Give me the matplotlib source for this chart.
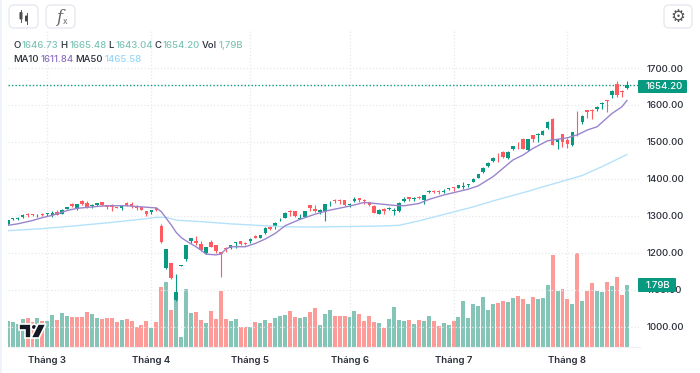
import matplotlib
matplotlib.use("Agg")
import matplotlib.pyplot as plt
from matplotlib.patches import FancyBboxPatch, Polygon, Circle, Rectangle

plt.rcParams['font.family'] = ['Inter', 'DejaVu Sans']

# --- data ---
opens = [1277.5, 1291, 1292, 1296, 1305, 1304, 1304, 1305, 1304, 1303, 1311, 1305, 1318, 1333, 1317, 1339, 1335, 1326,
         1328, 1338, 1329, 1328, 1324, 1322, 1334, 1331, 1325, 1323, 1312, 1311, 1321, 1273, 1158, 1172, 1072, 1164,
         1183, 1232, 1231, 1224, 1198, 1228, 1221, 1202, 1213, 1213, 1225, 1231, 1226, 1231, 1244, 1240, 1252, 1270,
         1272, 1290, 1295, 1312, 1312, 1291, 1296, 1329, 1317, 1310, 1314, 1336, 1343, 1343, 1342, 1330, 1340, 1347,
         1343, 1337, 1327, 1306, 1319, 1319, 1314, 1312, 1341, 1350, 1344, 1352, 1343, 1363, 1367, 1367, 1364, 1372,
         1377, 1375, 1379, 1383, 1391, 1403, 1418, 1434, 1448, 1471, 1473, 1455, 1480, 1498, 1508, 1478, 1518, 1519,
         1519, 1537, 1562, 1500, 1520, 1505, 1491, 1547, 1555, 1585, 1587, 1588, 1602, 1613, 1627, 1656, 1639, 1646.73]
highs = [1289, 1294, 1296, 1305, 1308, 1304, 1305, 1307, 1308, 1314, 1315, 1317, 1324, 1334, 1332, 1342, 1340, 1332,
         1335, 1338, 1329, 1332, 1324, 1328, 1336, 1336, 1328, 1324, 1314, 1315, 1324, 1277, 1210, 1173, 1141, 1167,
         1222, 1241, 1245, 1232, 1216, 1234, 1221, 1203, 1214, 1222, 1229, 1232, 1229, 1241, 1249, 1249, 1269, 1273,
         1283, 1294, 1311, 1315, 1314, 1305, 1314, 1330, 1330, 1317, 1332, 1339, 1346, 1346, 1343, 1335, 1350, 1349,
         1344, 1338, 1328, 1318, 1320, 1324, 1320, 1337, 1351, 1351, 1351, 1354, 1357, 1369, 1369, 1370, 1371, 1376,
         1379, 1383, 1390, 1386, 1401, 1414, 1431, 1445, 1458, 1471, 1474, 1474, 1490, 1500, 1510, 1508, 1519, 1523,
         1532, 1556, 1564, 1507, 1520, 1510, 1526, 1583, 1572, 1586, 1588, 1598, 1607, 1613, 1640, 1665, 1640, 1665.48]
lows = [1276, 1288, 1288, 1293, 1297, 1299, 1297, 1299, 1299, 1297, 1301, 1304, 1317, 1324, 1315, 1329, 1322, 1322,
        1327, 1327, 1317, 1314, 1320, 1315, 1326, 1322, 1315, 1315, 1300, 1305, 1314, 1227, 1157, 1129, 1068, 1163,
        1178, 1225, 1221, 1204, 1196, 1214, 1198, 1135, 1201, 1209, 1213, 1221, 1221, 1227, 1240, 1240, 1250, 1262,
        1263, 1285, 1293, 1299, 1297, 1290, 1296, 1312, 1310, 1306, 1287, 1327, 1335, 1333, 1327, 1323, 1338, 1337,
        1333, 1327, 1307, 1305, 1305, 1315, 1302, 1311, 1338, 1339, 1340, 1345, 1333, 1361, 1361, 1359, 1361, 1370,
        1368, 1374, 1372, 1377, 1390, 1402, 1417, 1433, 1446, 1445, 1457, 1454, 1479, 1482, 1482, 1475, 1500, 1500,
        1518, 1536, 1491, 1480, 1485, 1484, 1490, 1517, 1548, 1565, 1563, 1584, 1588, 1582, 1618, 1621, 1622, 1643.04]
closes = [1288, 1293, 1293, 1303, 1301, 1301, 1305, 1301, 1307, 1308, 1303, 1316, 1324, 1327, 1332, 1333, 1324, 1328,
          1334, 1328, 1324, 1323, 1321, 1328, 1328, 1325, 1321, 1315, 1305, 1315, 1315, 1228, 1210, 1130, 1093, 1166,
          1222, 1240, 1225, 1206, 1215, 1216, 1204, 1195, 1209, 1221, 1228, 1224, 1223, 1238, 1240, 1249, 1268, 1265,
          1281, 1292, 1308, 1310, 1299, 1294, 1313, 1321, 1313, 1315, 1331, 1338, 1340, 1340, 1330, 1333, 1346, 1343,
          1339, 1329, 1308, 1315, 1314, 1322, 1315, 1335, 1346, 1344, 1349, 1347, 1356, 1368, 1365, 1364, 1368, 1374,
          1375, 1382, 1381, 1385, 1400, 1413, 1430, 1444, 1457, 1469, 1458, 1473, 1489, 1496, 1482, 1508, 1508, 1521,
          1529, 1555, 1492, 1507, 1500, 1494, 1526, 1545, 1571, 1580, 1584, 1595, 1606, 1611, 1638, 1627, 1635, 1654.20]
# volume in billions
volumes = [.74, .72, .65, .80, .83, .72, .85, .75, .75, .93, .78, .98, .90, .86, .86, .86, 1.00, .94, .85, .82, .85,
           .83, .72, .79, .82, .74, .57, .64, .76, .56, .71, 1.72, 1.88, 1.06, 1.35, .29, 1.68, .98, 1.01, .77, .70,
           1.05, .82, 1.62, .80, .74, .80, .58, .57, .57, .73, .70, .78, .68, .83, .89, .91, 1.05, .86, .83, .86,
           1.00, 1.13, .64, .96, 1.06, .90, .90, .90, .87, 1.03, .96, .75, .90, .72, .70, .54, .82, 1.16, .78, .76,
           .77, .65, .78, .74, .89, .74, .61, .69, .64, .74, .87, 1.33, .84, 1.24, 1.18, 1.43, 1.08, 1.24, 1.27,
           1.34, 1.30, 1.41, 1.47, 1.40, 1.24, 1.44, 1.40, 1.41, 1.79, 2.66, 1.63, 1.67, 1.39, 1.24, 2.70, 1.34,
           1.62, 1.84, 1.61, 1.60, 1.88, 1.76, 2.02, 1.51, 1.79]
vol_down = [4, 5, 7, 10, 13, 14, 15, 16, 19, 20, 21, 22, 24, 25, 26, 27, 28, 30, 31, 33, 38, 39, 41, 42, 43, 44, 47, 48,
            50, 53, 57, 58, 61, 62, 66, 67, 68, 71, 72, 73, 74, 76, 81, 83, 86, 87, 90, 99, 100, 103, 104, 106, 110,
            112, 113, 115, 117, 118, 121, 123, 124]

ma10_idx = [0, 2, 5, 7, 9, 12, 14, 18, 20, 24, 27, 30, 31, 32, 33, 34, 35, 36, 38, 39, 40, 42, 43, 44, 45, 48, 50, 52,
            54, 56, 59, 62, 65, 69, 72, 75, 78, 80, 83, 85, 88, 93, 95, 98, 102, 104, 106, 109, 113, 115, 117, 119,
            122, 124, 125]
ma10_val = [1274, 1278, 1287, 1295, 1301, 1314, 1320, 1325, 1327, 1327, 1324, 1321, 1311, 1293, 1275, 1255, 1241, 1232,
            1216, 1207, 1196, 1194, 1196, 1209, 1216, 1216, 1225, 1237, 1252, 1273, 1290, 1304, 1315, 1326, 1336, 1332,
            1328, 1327, 1333, 1344, 1356, 1372, 1381, 1406, 1451, 1464, 1482, 1503, 1511, 1519, 1532, 1541, 1577,
            1595, 1611.84]
ma50_idx = [0, 7, 14, 21, 28, 30, 32, 34, 39, 45, 49, 56, 62, 70, 75, 79, 83, 94, 99, 105, 107, 116, 120, 125]
ma50_val = [1259.5, 1265, 1273, 1282, 1292, 1295.6, 1295.6, 1288, 1284, 1278, 1275, 1270, 1269.4, 1271, 1272, 1274,
            1286, 1324, 1344, 1366, 1374, 1409, 1433, 1465.58]

month_idx = [8, 29, 49, 69, 90, 113]
month_labels = ["Tháng 3", "Tháng 4", "Tháng 5", "Tháng 6", "Tháng 7", "Tháng 8"]
price_ticks = [1000, 1100, 1200, 1300, 1400, 1500, 1600, 1700]
last_price = 1654.20
last_vol = 1.79

UP = '#089981'
DOWN = '#ff5a5f'
UP_VOL = '#85c5b8'
DOWN_VOL = '#fd9b99'
GRID = '#e6e8ec'
FS = 6.9

W, H = 700, 373
fig = plt.figure(figsize=(7.0, 3.73), dpi=100, facecolor='white')

# plot area in pixels: x 8.3..640, y 30..347
rect = [8.3 / W, (H - 347) / H, (640 - 8.3) / W, (347 - 30) / H]
ax_vol = fig.add_axes(rect, zorder=1)
ax = fig.add_axes(rect, zorder=2)
ax.patch.set_alpha(0)

xs = list(range(len(closes)))
xlim = ((8.3 - 7.75) / 4.953, (640 - 7.75) / 4.953)

# --- volume ---
vol_colors = [DOWN_VOL if i in vol_down else UP_VOL for i in xs]
ax_vol.bar(xs, volumes, width=0.8, color=vol_colors, linewidth=0)
ax_vol.set_xlim(xlim)
ax_vol.set_ylim(0, 317 / 34.64)
ax_vol.set_yticks([])
ax_vol.set_xticks(month_idx)
ax_vol.set_xticklabels(month_labels, fontsize=FS, fontweight='semibold', color='#2a2e39')
ax_vol.tick_params(axis='x', length=0, pad=6.5)
ax_vol.grid(True, axis='x', color=GRID, linestyle=':', linewidth=0.9)
ax_vol.set_axisbelow(True)
for s in ['top', 'left', 'right']:
    ax_vol.spines[s].set_visible(False)
ax_vol.spines['bottom'].set_color('#eef0f3')

# --- candles ---
colors = [UP if c >= o else DOWN for o, c in zip(opens, closes)]
bottoms = [min(o, c) for o, c in zip(opens, closes)]
heights = [max(abs(c - o), 1.6) for o, c in zip(opens, closes)]
ax.vlines(xs, lows, highs, colors=colors, linewidth=0.8, zorder=3)
ax.bar(xs, heights, bottom=bottoms, width=0.72, color=colors, linewidth=0, zorder=4)

ax.plot(ma50_idx, ma50_val, color='#b5e2fb', linewidth=1.0, zorder=5)
ax.plot(ma10_idx, ma10_val, color='#9a85cc', linewidth=1.0, zorder=6)
ax.axhline(last_price, color=UP, linestyle=(0, (1, 1.5)), linewidth=1.0, zorder=2)

ax.set_xlim(xlim)
ax.set_ylim(944.5, 1802.9)
ax.set_xticks([])
ax.yaxis.tick_right()
ax.set_yticks(price_ticks)
ax.set_yticklabels([f"{v:.2f}" for v in price_ticks], fontsize=FS, fontweight='medium', color='#2a2e39')
ax.tick_params(axis='y', length=0, pad=5)
ax.grid(True, axis='y', color=GRID, linestyle=':', linewidth=0.9, zorder=0)
for s in ax.spines.values():
    s.set_visible(False)

# --- chrome drawn in pixel coordinates ---
ui = fig.add_axes([0, 0, 1, 1], zorder=3)
ui.set_xlim(0, W)
ui.set_ylim(H, 0)
ui.axis('off')
ui.patch.set_alpha(0)

ui.add_patch(Rectangle((0, 0), 2, H, color='#eef3fa', linewidth=0))


def button(x0, x1):
    ui.add_patch(FancyBboxPatch((x0, 5), x1 - x0, 23, boxstyle="round,pad=0,rounding_size=5",
                                fc='white', ec='#e4e7ee', lw=0.9))


button(9, 38)
button(46, 75)
button(664, 692)

# candle icon
ui.plot([21, 21], [10, 22], color='#555', lw=0.7)
ui.add_patch(FancyBboxPatch((19.5, 12), 3, 7.5, boxstyle="round,pad=0,rounding_size=1", fc='#444', ec='none'))
ui.plot([26.5, 26.5], [13, 24], color='#555', lw=0.7)
ui.add_patch(FancyBboxPatch((25, 15.5), 3, 6, boxstyle="round,pad=0,rounding_size=1", fc='#444', ec='none'))
ui.text(59, 17, "f", fontsize=12, family='DejaVu Serif', style='italic', color='#666', ha='center', va='center')
ui.text(64.5, 21.5, "x", fontsize=6, color='#666', ha='center', va='center')
ui.text(678, 16.5, "\u2699", fontsize=12, family='DejaVu Sans', color='#555', ha='center', va='center')


def text_row(x, y, parts):
    prev = ui.text(x, y, parts[0][0], color=parts[0][1], fontsize=FS, fontweight='medium', va='center')
    for s, c in parts[1:]:
        prev = ui.annotate(s, xy=(1, 0), xycoords=prev, xytext=(1.2, 0), textcoords='offset points',
                           color=c, fontsize=FS, fontweight='medium', va='bottom')


TXT = '#2a2e39'
G = '#7fc4b6'
text_row(13, 46, [("O", TXT), ("1646.73", G), ("H", TXT), ("1665.48", G), ("L", TXT), ("1643.04", G),
                  ("C", TXT), ("1654.20", G), ("Vol", TXT), ("1,79B", G)])
text_row(13, 60, [("MA10", TXT), ("1611.84", '#8e6fc0'), ("MA50", TXT), ("1465.58", '#98d4f8')])

# last value tags
ui.add_patch(FancyBboxPatch((638, 80), 49, 13, boxstyle="round,pad=0,rounding_size=1", fc=UP, ec='none'))
ui.text(664.5, 86.5, f"{last_price:.2f}", color='white', fontsize=FS, fontweight='medium', ha='center', va='center')
ui.add_patch(FancyBboxPatch((638, 278), 38, 14, boxstyle="round,pad=0,rounding_size=1", fc=UP, ec='none'))
ui.text(658, 285, f"{last_vol:.2f}B", color='white', fontsize=FS, fontweight='medium', ha='center', va='center')

# TradingView mark
logo = dict(fc='#131722', ec='white', lw=1.2, joinstyle='miter')
ui.add_patch(Polygon([(19, 324), (31, 324), (31, 338), (25, 338), (25, 330), (19, 330)], **logo))
ui.add_patch(Circle((34, 327), 2.8, **logo))
ui.add_patch(Polygon([(38, 324), (46, 324), (39, 338), (31, 338)], **logo))

fig.savefig("out.png", dpi=100, facecolor='white')
